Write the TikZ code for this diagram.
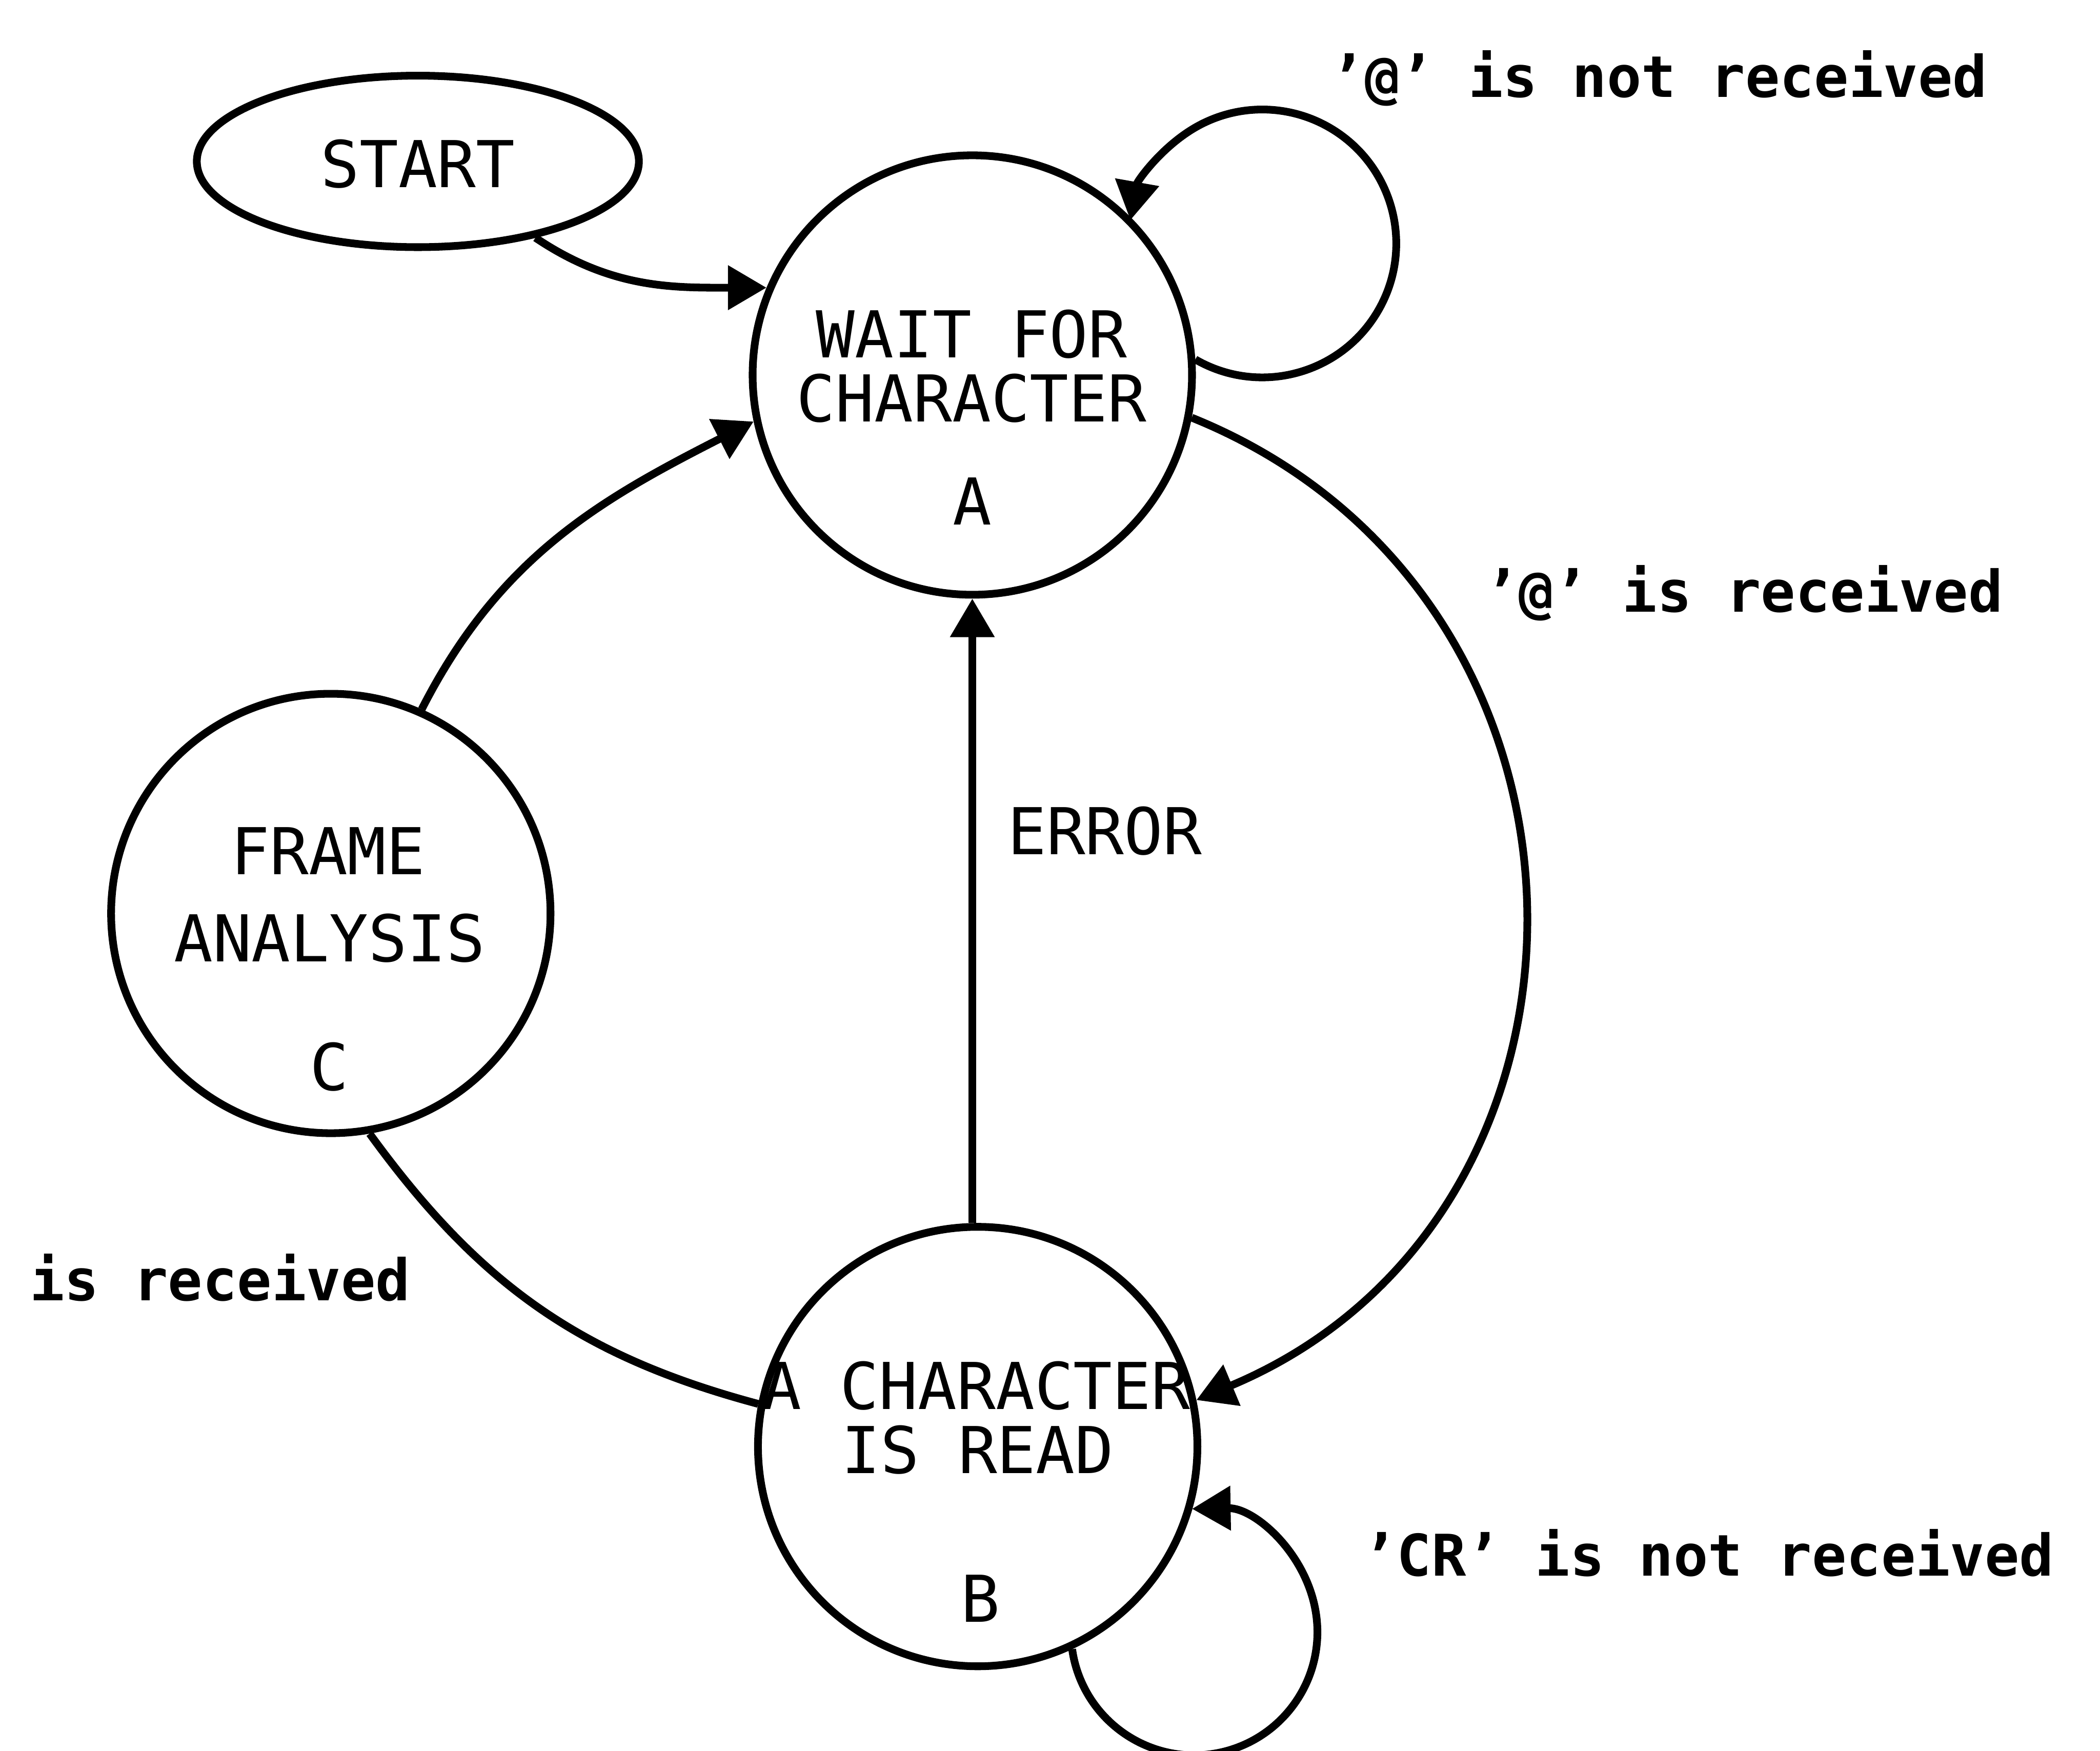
\documentclass[tikz,border=0pt]{standalone}
\usepackage{fontspec}
\newfontfamily\plotfont{DejaVu Sans Mono}
\usetikzlibrary{arrows.meta,shapes.geometric}
\begin{document}
\begin{tikzpicture}[x=0.025cm,y=0.025cm,
  state/.style={circle,draw,line width=4.1pt,minimum size=8.2cm,inner sep=0pt},
  startbox/.style={ellipse,draw,line width=4.1pt,minimum width=8.25cm,minimum height=3.2cm,inner sep=0pt},
  stxt/.style={anchor=base,inner sep=0pt,font=\plotfont\fontsize{34.3pt}{40pt}\selectfont},
  ltxt/.style={anchor=base west,inner sep=0pt,font=\plotfont\bfseries\fontsize{30.5pt}{36pt}\selectfont},
  arr/.style={line width=4.1pt,-{Triangle[length=0.72cm,width=0.8cm]}},
  conn/.style={line width=4.1pt}]
\useasboundingbox (0,0) rectangle (1568,-1307);

% states
\node[startbox] (S) at (312,-120.5) {};
\node[state] (A) at (726,-280) {};
\node[state] (C) at (247,-682) {};
\node[state] (B) at (730,-1080) {};

% texts inside
\node[stxt] (St) at (312,-140) {START};
\node[stxt] (A1) at (725.5,-267) {WAIT FOR};
\node[stxt] (A2) at (725.5,-315) {CHARACTER};
\node[stxt] (A3) at (726,-392) {A};
\node[stxt] (C1) at (245,-653) {FRAME};
\node[stxt] (C2) at (246,-718) {ANALYSIS};
\node[stxt] (C3) at (246,-814) {C};
\node[stxt] (B1) at (729,-1052) {A CHARACTER};
\node[stxt] (B2) at (730,-1100) {IS READ};
\node[stxt] (B3) at (732,-1211) {B};

% labels
\node[ltxt] (L1) at (993,-72.6) {’@’ is not received};
\node[ltxt] (L2) at (1108,-457) {’@’ is received};
\node[ltxt] (L3) at (22,-971) {is received};
\node[ltxt] (L4) at (1017,-1176.5) {’CR’ is not received};
\node[stxt,anchor=base west] (L5) at (752,-638) {ERROR};

% connectors
\draw[arr] (S.-33) to[out=-34,in=180] (A.157);
\draw[arr] (A.4.5) arc[start angle=240,end angle=530,radius=100];
\draw[arr] (A.-11) .. controls +(-22:354) and +(22.7:354) .. (B.12);
\draw[arr] (B.north -| A.south) -- (A.south);
\draw[arr] (C.66) to[out=63,in=207] (A.192);
\draw[conn] (B.169) to[out=165,in=-54] (C.-80);
\draw[arr] (B.-65) arc[start angle=188,end angle=451,radius=92];
\end{tikzpicture}
\end{document}
